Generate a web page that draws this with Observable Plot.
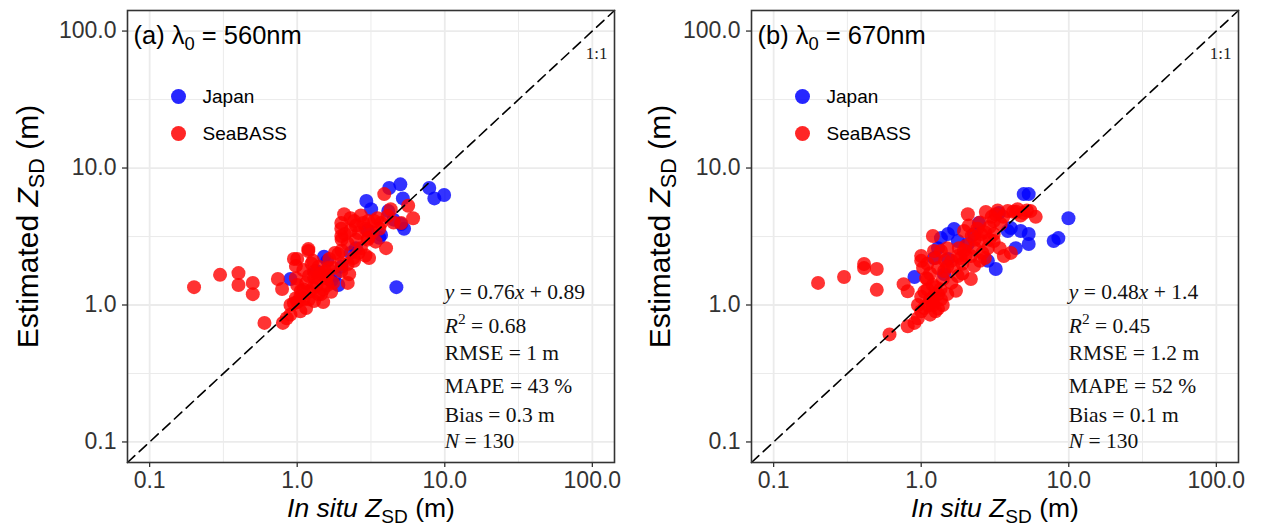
<!DOCTYPE html>
<html><head><meta charset="utf-8">
<script src="https://cdn.jsdelivr.net/npm/d3@7"></script>
<script src="https://cdn.jsdelivr.net/npm/@observablehq/plot@0.6"></script>
<style>
body{margin:0;background:#fff;}
#wrap{display:flex;width:1261px;height:526px;overflow:hidden;}
#wrap svg{display:block;}
</style></head><body><div id="wrap"></div>
<script>
// ---------- data ----------
const majorTicks = [0.1, 1, 10, 100];
const minorTicks = [0.316, 3.16, 31.6];
const axisDomain = [0.0708, 141.3];
const seriesNames = ["Japan", "SeaBASS"];
const seriesColors = ["#0000FF", "#FF0000"];

const japan560 = [[9.9,6.35],[8.5,6.0],[7.85,7.15],[5.0,7.6],[4.2,7.15],[5.2,6.0],[4.14,4.85],[2.94,5.74],[3.17,5.0],[5.3,3.6],[5.06,3.9],[3.6,3.1],[3.7,3.25],[2.5,2.6],[2.3,2.4],[1.52,2.25],[1.6,2.1],[1.9,1.4],[1.8,1.65],[1.35,1.77],[0.9,1.55],[4.7,1.35],[2.0,1.9],[1.7,1.5],[3.0,3.5],[4.5,4.2]];
const seabass560 = [[0.2,1.35],[0.3,1.66],[0.4,1.71],[0.4,1.4],[0.5,1.45],[0.5,1.2],[0.6,0.74],[0.74,1.55],[0.79,1.31],[0.8,0.74],[0.9,0.85],[0.85,0.8],
[0.95,2.17],[0.98,1.93],[1.0,2.17],[0.95,1.03],[0.98,1.12],[1.06,1.27],[1.0,1.05],[1.05,1.15],[1.1,1.1],[1.2,1.1],
[1.3,1.07],[1.28,1.33],[1.39,1.2],[1.2,1.63],[1.39,1.57],[0.98,1.57],[1.19,2.48],[1.19,2.56],[1.28,2.1],[1.25,2.0],
[1.1,1.8],[1.15,1.45],[1.5,1.3],[1.45,1.2],[1.35,1.4],[1.57,1.57],[1.75,1.45],[1.62,1.86],[1.65,2.17],[1.75,1.86],
[1.9,2.36],[1.99,1.77],[2.2,1.99],[2.25,1.68],[2.2,1.45],[2.43,2.1],[2.0,2.0],[1.55,1.75],[1.4,1.9],[1.3,1.75],
[1.1,1.3],[1.0,1.4],[1.5,1.05],[1.7,1.25],[3.07,2.2],[2.7,2.6],[4.0,2.6],[3.03,3.08],[2.6,3.35],[2.43,4.1],
[1.99,3.19],[1.99,3.6],[1.99,3.97],[2.08,4.6],[2.8,3.97],[3.03,4.1],[3.33,4.1],[3.7,3.97],[4.1,4.46],[5.06,3.97],
[6.1,4.3],[5.65,5.3],[3.89,6.45],[2.3,3.5],[2.5,3.0],[2.2,2.8],[2.9,3.6],[3.2,3.4],[3.5,4.3],[4.5,4.0],
[2.7,4.5],[2.3,4.3],[2.0,2.5],[1.8,2.4],[2.6,2.4],[3.4,2.9],[4.3,5.0],[2.5,3.8],[2.1,3.3],[3.6,3.6],
[1.6,1.4],[1.3,1.6],[1.45,1.7],[2.9,2.3],[2.0,3.0],[3.0,3.0],[1.2,1.25],[0.9,1.0],[1.15,0.95],[1.05,0.9],[2.4,2.2],[1.6,1.65]];

const japan670 = [[0.9,1.6],[1.36,3.08],[1.52,3.3],[1.67,3.59],[1.43,1.68],[1.22,2.2],[1.52,2.17],[1.77,2.93],[2.46,3.97],[2.83,2.1],[3.2,1.83],[3.36,4.7],[3.86,3.47],[4.05,3.65],[4.37,2.6],[4.95,6.45],[5.35,6.45],[4.72,3.47],[5.35,3.3],[5.35,2.79],[7.9,2.93],[8.5,3.08],[9.95,4.3],[2.07,2.79],[2.28,3.3],[1.3,2.6]];
const seabass670 = [[0.2,1.45],[0.3,1.6],[0.41,1.99],[0.41,1.86],[0.5,1.83],[0.5,1.29],[0.76,1.42],[0.81,1.26],[0.61,0.61],[0.81,0.70],
[0.9,0.74],[0.95,0.8],[1.0,0.9],[1.11,1.0],[1.3,0.94],[1.36,1.1],[1.22,1.16],[1.15,0.85],[1.05,0.95],[1.2,1.05],
[1.3,1.2],[1.4,1.0],[1.0,2.28],[1.0,2.1],[1.03,1.86],[1.08,1.57],[1.2,3.19],[1.22,2.48],[1.36,2.48],[1.3,1.86],
[1.43,1.77],[1.72,1.27],[1.77,1.63],[1.77,2.28],[1.95,3.47],[2.07,4.6],[2.17,1.55],[2.28,1.93],[2.17,2.28],[1.95,2.5],
[2.54,3.3],[2.54,2.93],[2.83,2.6],[2.74,4.77],[3.1,4.1],[3.1,3.3],[3.1,2.93],[3.63,2.28],[4.05,2.4],[3.86,4.86],
[4.5,5.0],[4.95,4.7],[5.5,4.86],[5.97,4.4],[3.46,3.9],[4.72,4.5],[1.1,2.0],[1.15,1.7],[1.25,2.2],[1.5,1.9],
[1.6,2.1],[1.5,2.6],[1.9,2.0],[2.0,2.7],[2.3,3.0],[2.4,3.6],[2.7,3.4],[2.2,3.2],[1.8,2.6],[2.6,2.4],
[2.9,3.0],[3.2,4.6],[3.6,4.4],[4.2,4.8],[1.2,1.4],[3.0,4.4],[2.5,4.0],[1.6,1.45],[1.4,1.55],[1.9,1.7],
[1.1,1.3],[1.0,1.15],[1.25,1.35],[0.95,1.0],[1.05,1.25],[2.0,2.3],[2.3,2.6],[2.5,2.1],[3.4,2.6],[1.2,1.0],
[5.2,4.9],[4.4,4.8],[2.1,3.8],[1.5,1.2],[1.45,2.1],[1.65,1.9],[1.15,1.1],[1.25,0.9],[2.7,2.2],[3.3,4.9],
[1.35,1.3],[2.9,3.7],[1.85,2.2],[1.1,1.55]];

const panelTitles = ["(a) λ_{0} = 560nm", "(b) λ_{0} = 670nm"];
const stats560 = ["*y* = 0.76*x* + 0.89", "*R*^{2} = 0.68", "RMSE = 1 m", "MAPE = 43 %", "Bias = 0.3 m", "*N* = 130"];
const stats670 = ["*y* = 0.48*x* + 1.4", "*R*^{2} = 0.45", "RMSE = 1.2 m", "MAPE = 52 %", "Bias = 0.1 m", "*N* = 130"];
const yLabel = "Estimated *Z*_{SD} (m)";
const xLabel = "*In situ Z*_{SD} (m)";
const oneToOneLabel = "1:1";
const statsAnchorX = 10;

// ---------- rendering ----------
function rich(s){
  return s.replace(/&/g,"&amp;").replace(/</g,"&lt;")
    .replace(/\*([^*]+)\*/g,'<tspan font-style="italic">$1</tspan>')
    .replace(/_\{([^}]+)\}/g,'<tspan baseline-shift="-0.3em" font-size="72%" font-style="normal">$1</tspan>')
    .replace(/\^\{([^}]+)\}/g,'<tspan baseline-shift="0.6em" font-size="72%">$1</tspan>');
}
const statsDy = [-164, -130, -103, -70, -41, -15];
const SANS = "Liberation Sans, Arial, sans-serif";
const SERIF = "Liberation Serif, Times New Roman, serif";

function panel(opts){
  const {width, marginLeft, marginRight, japan, seabass, title, stats, ylabDx} = opts;
  const svg = Plot.plot({
    width, height: 526,
    marginLeft, marginRight, marginTop: 10, marginBottom: 64,
    style: {fontFamily: SANS, color: "#1a1a1a", background: "#fff"},
    x: {type: "log", domain: axisDomain, label: null},
    y: {type: "log", domain: axisDomain, label: null},
    marks: [
      Plot.ruleX(minorTicks, {stroke: "#EBEBEB", strokeWidth: 1}),
      Plot.ruleY(minorTicks, {stroke: "#EBEBEB", strokeWidth: 1}),
      Plot.ruleX(majorTicks, {stroke: "#EBEBEB", strokeWidth: 1.8}),
      Plot.ruleY(majorTicks, {stroke: "#EBEBEB", strokeWidth: 1.8}),
      Plot.axisX({ticks: majorTicks, tickFormat: d3.format(".1f"), tickSize: 5, tickPadding: 4, fontSize: 23, strokeWidth: 1.3, color: "#333", label: null}),
      Plot.axisY({ticks: majorTicks, tickFormat: d3.format(".1f"), tickSize: 5, tickPadding: 6, fontSize: 23, strokeWidth: 1.3, color: "#333", label: null}),
      Plot.dot(japan, {x: d => d[0], y: d => d[1], r: 7, fill: seriesColors[0], fillOpacity: 0.8, stroke: "none"}),
      Plot.dot(seabass, {x: d => d[0], y: d => d[1], r: 7, fill: seriesColors[1], fillOpacity: 0.8, stroke: "none"}),
      Plot.line(axisDomain, {x: d => d, y: d => d, stroke: "#000", strokeWidth: 1.6, strokeDasharray: "10,6"}),
      Plot.text([oneToOneLabel], {frameAnchor: "top-right", dx: -7, dy: 43, textAnchor: "end", lineAnchor: "middle", fontFamily: SERIF, fontSize: 17, fill: "#222"}),
      Plot.text([title], {frameAnchor: "top-left", dx: 6, dy: 25, textAnchor: "start", lineAnchor: "middle", fontSize: 25.5, fill: "#000", className: "rich"}),
      // legend
      Plot.dot([seriesNames[0]], {frameAnchor: "top-left", dx: 51, dy: 86, r: 7.5, fill: seriesColors[0], fillOpacity: 0.85}),
      Plot.dot([seriesNames[1]], {frameAnchor: "top-left", dx: 51, dy: 123, r: 7.5, fill: seriesColors[1], fillOpacity: 0.85}),
      Plot.text([seriesNames[0]], {frameAnchor: "top-left", dx: 75, dy: 86, textAnchor: "start", lineAnchor: "middle", fontSize: 19, fill: "#000"}),
      Plot.text([seriesNames[1]], {frameAnchor: "top-left", dx: 75, dy: 123, textAnchor: "start", lineAnchor: "middle", fontSize: 19, fill: "#000"}),
      // stats
      ...stats.map((s, i) => Plot.text([s], {x: () => statsAnchorX, frameAnchor: "bottom", dy: statsDy[i], textAnchor: "start", lineAnchor: "bottom", fontFamily: SERIF, fontSize: 21.5, fill: "#111", className: "rich"})),
      // axis titles
      Plot.text([yLabel], {frameAnchor: "left", dx: ylabDx, dy: -10, rotate: -90, textAnchor: "middle", lineAnchor: "middle", fontSize: 30, fill: "#000", className: "rich"}),
      Plot.text([xLabel], {frameAnchor: "bottom", dy: 46, textAnchor: "middle", lineAnchor: "middle", fontSize: 26.5, fill: "#000", className: "rich"}),
      Plot.frame({stroke: "#333", strokeWidth: 1.6})
    ]
  });
  d3.select(svg).selectAll("g.rich text").each(function(){ this.innerHTML = rich(this.textContent); });
  return svg;
}

const wrap = document.getElementById("wrap");
wrap.appendChild(panel({width: 625, marginLeft: 127, marginRight: 11, japan: japan560, seabass: seabass560, title: panelTitles[0], stats: stats560, ylabDx: -99}));
wrap.appendChild(panel({width: 636, marginLeft: 126, marginRight: 23, japan: japan670, seabass: seabass670, title: panelTitles[1], stats: stats670, ylabDx: -91}));
</script></body></html>
